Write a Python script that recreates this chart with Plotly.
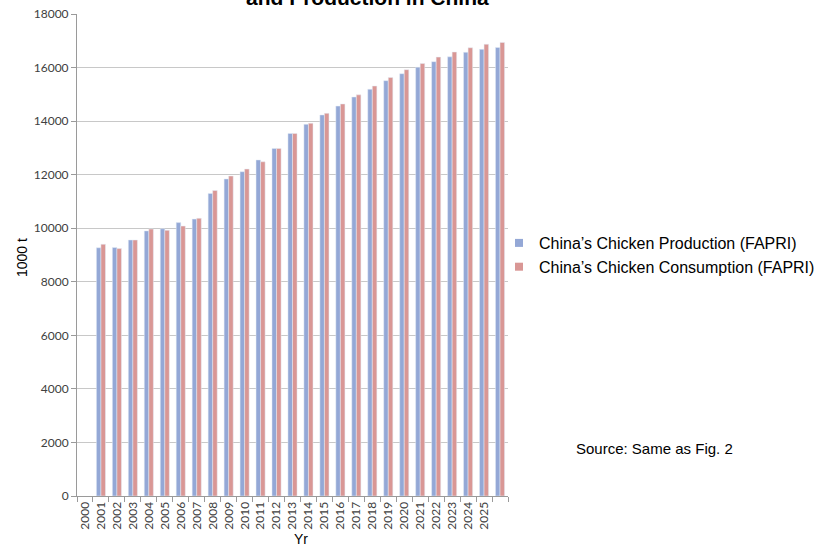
import plotly.graph_objects as go

# FAPRI chicken balance for China, thousand tonnes
years = [2001, 2002, 2003, 2004, 2005, 2006, 2007, 2008, 2009, 2010, 2011, 2012, 2013,
         2014, 2015, 2016, 2017, 2018, 2019, 2020, 2021, 2022, 2023, 2024, 2025, 2026]
production = [9270, 9280, 9560, 9900, 9980, 10210, 10340, 11300, 11840, 12110, 12550, 12980, 13540,
              13880, 14230, 14560, 14900, 15190, 15510, 15770, 16010, 16220, 16400, 16570, 16680, 16750]
consumption = [9400, 9240, 9560, 9970, 9920, 10080, 10370, 11410, 11950, 12210, 12480, 12980, 13540,
               13920, 14290, 14640, 14980, 15310, 15630, 15920, 16150, 16390, 16580, 16740, 16870, 16940]
tick_years = [2000, 2001, 2002, 2003, 2004, 2005, 2006, 2007, 2008, 2009, 2010, 2011, 2012,
              2013, 2014, 2015, 2016, 2017, 2018, 2019, 2020, 2021, 2022, 2023, 2024, 2025]
y_ticks = [0, 2000, 4000, 6000, 8000, 10000, 12000, 14000, 16000, 18000]

names = ["China\u2019s Chicken Production (FAPRI)", "China\u2019s Chicken Consumption (FAPRI)"]
colors = ["#94A8D6", "#D99795"]

fig = go.Figure()
fig.add_trace(go.Bar(x=years, y=production, marker_color=colors[0], showlegend=False))
fig.add_trace(go.Bar(x=years, y=consumption, marker_color=colors[1], showlegend=False))

# legend swatches as small squares
for name, color, grp in zip(names, colors, ["a", "b"]):
    fig.add_trace(go.Scatter(x=[None], y=[None], mode="markers", name=name, legendgroup=grp,
                             marker=dict(symbol="square", size=8, color=color)))

axis_font = dict(family="Lato, Liberation Sans, Arial", size=12, color="#404040")
label_font = dict(family="Liberation Sans, Arial", size=14, color="#000000")

fig.update_layout(
    width=824, height=546,
    margin=dict(l=77, r=316, t=14, b=50, autoexpand=False),
    paper_bgcolor="white", plot_bgcolor="white",
    barmode="group", bargap=0.43, bargroupgap=0,
    font=dict(family="Liberation Sans, Arial", color="#000000"),
    legend=dict(xref="container", yref="container", x=499 / 824, y=1 - 255 / 546,
                xanchor="left", yanchor="middle",
                font=dict(family="Liberation Sans, Arial", size=16, color="#000000"),
                itemwidth=30, tracegroupgap=0, traceorder="grouped",
                bgcolor="rgba(0,0,0,0)"),
    xaxis=dict(range=[1999.5, 2026.5], tickmode="array", tickvals=tick_years,
               ticktext=[str(v) for v in tick_years], tickangle=-90, ticks="",
               tickfont=axis_font, showgrid=False, zeroline=False,
               showline=True, linecolor="#9A9A9A", linewidth=1,
               minor=dict(tick0=0.5, dtick=1, ticks="outside", ticklen=5,
                          tickcolor="#9A9A9A", showgrid=False)),
    yaxis=dict(range=[0, 18000], tickmode="array", tickvals=y_ticks,
               ticktext=[str(v) for v in y_ticks],
               ticks="outside", ticklen=5, tickcolor="#9A9A9A",
               tickfont=axis_font, showgrid=True, gridcolor="#C8C8C8", gridwidth=1,
               zeroline=False, showline=True, linecolor="#9A9A9A", linewidth=1),
    annotations=[
        dict(text="<b>and Production in China</b>", xref="paper", yref="paper",
             x=(367 - 77) / 431, y=498 / 482, xanchor="center", yanchor="middle",
             showarrow=False, font=dict(family="Liberation Sans, Arial", size=21, color="#000000")),
        dict(text="1000 t", xref="paper", yref="paper", x=(22 - 77) / 431, y=(496 - 257) / 482,
             xanchor="center", yanchor="middle", textangle=-90, showarrow=False,
             font=label_font),
        dict(text="Yr", xref="paper", yref="paper", x=(301 - 77) / 431, y=(496 - 539) / 482,
             xanchor="center", yanchor="middle", showarrow=False, font=label_font),
        dict(text="Source: Same as Fig. 2", xref="paper", yref="paper", x=(654 - 77) / 431,
             y=(496 - 448) / 482, xanchor="center", yanchor="middle", showarrow=False,
             font=dict(family="Liberation Sans, Arial", size=15, color="#000000")),
    ],
)

fig.write_html("out.html")
